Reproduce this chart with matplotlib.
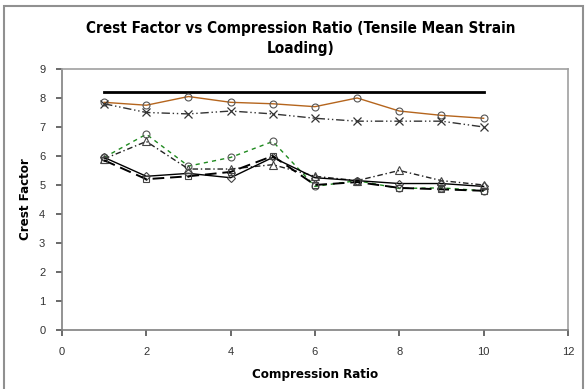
import matplotlib.pyplot as plt
from matplotlib.patches import Rectangle

narrow = ["Liberation Sans Narrow", "DejaVu Sans"]
plain = ["Liberation Sans", "DejaVu Sans"]

ratio = [1, 2, 3, 4, 5, 6, 7, 8, 9, 10]

limit = [8.2] * 10
cf_a = [7.85, 7.75, 8.05, 7.85, 7.8, 7.7, 8.0, 7.55, 7.4, 7.3]
cf_b = [7.8, 7.5, 7.45, 7.55, 7.45, 7.3, 7.2, 7.2, 7.2, 7.0]
cf_c = [5.95, 6.75, 5.65, 5.95, 6.5, 4.95, 5.15, 4.88, 4.9, 4.8]
cf_d = [5.9, 6.5, 5.55, 5.55, 5.7, 5.3, 5.15, 5.5, 5.15, 5.0]
cf_e = [5.95, 5.3, 5.4, 5.25, 5.95, 5.25, 5.15, 5.05, 5.05, 4.95]
cf_f = [5.85, 5.2, 5.3, 5.45, 6.0, 5.0, 5.1, 4.9, 4.85, 4.8]

fig = plt.figure(figsize=(5.88, 3.89), dpi=100)
ax = fig.add_axes([0.1054, 0.1517, 0.8605, 0.671])

ax.plot(ratio, limit, color="black", lw=2.0)
ax.plot(ratio, cf_a, color="#b5651d", lw=1.0, marker="o", ms=5,
        mfc="none", mec="#555555", mew=0.8)
ax.plot(ratio, cf_b, color="#333333", lw=1.0, ls=(0, (6, 2, 1, 2, 1, 2)),
        marker="x", ms=6, mec="#333333", mew=0.9)
ax.plot(ratio, cf_c, color="#1f8a1f", lw=1.0, ls=(0, (3, 3)),
        marker="o", ms=5, mfc="none", mec="#555555", mew=0.8)
ax.plot(ratio, cf_d, color="#222222", lw=1.0, ls=(0, (4, 2, 1, 2)),
        marker="^", ms=6, mfc="none", mec="#444444", mew=0.8)
ax.plot(ratio, cf_e, color="black", lw=1.0, marker="D", ms=4,
        mfc="none", mec="#444444", mew=0.8)
ax.plot(ratio, cf_f, color="black", lw=1.4, ls=(0, (6, 3)),
        marker="s", ms=4, mfc="none", mec="#444444", mew=0.8)

ax.set_xlim(0, 12)
ax.set_ylim(0, 9)
ax.set_xticks(range(0, 13, 2))
ax.set_yticks(range(0, 10))
for s in ax.spines.values():
    s.set_color("#a0a0a0")
    s.set_linewidth(1.2)
ax.spines["left"].set_color("#808080")
ax.spines["bottom"].set_color("#808080")
ax.tick_params(direction="out", length=4, width=1.2, color="#505050",
               labelsize=8, labelcolor="#333333", pad=8)
for lab in ax.get_xticklabels() + ax.get_yticklabels():
    lab.set_family(plain)

ax.set_xlabel("Compression Ratio", family=narrow, fontstretch="condensed",
              fontweight="bold", fontsize=9.5, labelpad=8)
ax.set_ylabel("Crest Factor", family=narrow, fontstretch="condensed",
              fontweight="bold", fontsize=9.5, labelpad=5)
fig.text(0.512, 0.9, "Crest Factor vs Compression Ratio (Tensile Mean Strain\nLoading)",
         ha="center", va="center", family=narrow, fontstretch="condensed",
         fontweight="bold", fontsize=11, linespacing=1.4)

# chart area frame
fig.patches.append(Rectangle((0.006, -0.01), 0.986, 0.995, transform=fig.transFigure,
                             fill=False, edgecolor="#909090", lw=1.5))

fig.savefig("out.png", dpi=100)
